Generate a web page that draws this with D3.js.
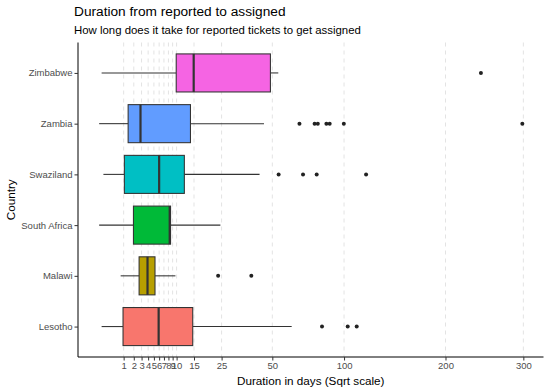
<!DOCTYPE html>
<html>
<head>
<meta charset="utf-8">
<title>Duration from reported to assigned</title>
<style>
  body { margin: 0; background: #fff; }
  svg { font-family: "Liberation Sans", Arial, Helvetica, sans-serif; }
  .grid line { stroke: #e3e3e3; stroke-dasharray: 4,4; stroke-width: 1; }
  .axis path, .axis line { stroke: #000; }
  .axis text { fill: #4d4d4d; font-size: 9.5px; }
  .axis .tick line { stroke: #333; }
</style>
</head>
<body>
<svg id="chart"></svg>
<script src="https://cdn.jsdelivr.net/npm/d3@7"></script>
<script>
"use strict";

// data (days)
var countries = ["Zimbabwe", "Zambia", "Swaziland", "South Africa", "Malawi", "Lesotho"];
var colors    = ["#F564E3", "#619CFF", "#00BFC4", "#00BA38", "#B79F00", "#F8766D"];
var lowWhisk  = [0.01, 0.0, 0.03, 0.0, 0.77, 0.01];
var q1        = [9.9, 1.4, 1.06, 1.96, 2.66, 0.95];
var medians   = [14.9, 2.85, 6.0, 8.3, 3.9, 5.9];
var q3        = [48.9, 13.9, 12.1, 8.5, 5.2, 14.6];
var highWhisk = [53.5, 45.3, 42.9, 24.5, 9.7, 61.8];
var outliers  = [
  [243],
  [66.9, 77.4, 79.7, 86.1, 88.6, 99.8, 298.6],
  [53.7, 69.3, 78.9, 118.8],
  [],
  [23.6, 38.6],
  [82.8, 103, 110.6]
];
var xTicks = [1, 2, 3, 4, 5, 6, 7, 8, 9, 10, 15, 25, 50, 100, 200, 300];

var totalWidth = 551, totalHeight = 392;
var svg = d3.select("#chart")
    .attr("width", totalWidth)
    .attr("height", totalHeight);

var panel = {left: 78, right: 543.5, top: 42.5, bottom: 357};

// sqrt scale with 5% expansion in transformed space
var dataMax = d3.max(outliers, function(o) { return d3.max(o) || 0; });
var sMax = Math.sqrt(dataMax), pad = 0.05 * sMax;
var unit = (panel.right - panel.left) / (sMax + 2 * pad);
var x = d3.scaleSqrt()
    .domain([0, dataMax])
    .range([panel.left + pad * unit, panel.right - pad * unit]);

var y = d3.scalePoint()
    .domain(countries)
    .range([panel.top, panel.bottom])
    .padding(0.6);
var boxH = y.step() * 0.75;

// grid lines
svg.append("g")
    .attr("class", "grid")
  .selectAll("line")
    .data(xTicks)
  .enter().append("line")
    .attr("x1", function(d) { return x(d); })
    .attr("x2", function(d) { return x(d); })
    .attr("y1", panel.top)
    .attr("y2", panel.bottom);

var rows = countries.map(function(c, i) {
  return {c: c, col: colors[i], lo: lowWhisk[i], q1: q1[i], med: medians[i],
          q3: q3[i], hi: highWhisk[i], out: outliers[i]};
});

var g = svg.append("g");
var box = g.selectAll(".box")
    .data(rows)
  .enter().append("g")
    .attr("class", "box")
    .attr("transform", function(d) { return "translate(0," + y(d.c) + ")"; });

box.append("line")
    .attr("x1", function(d) { return x(d.lo); })
    .attr("x2", function(d) { return x(d.q1); })
    .attr("stroke", "#333").attr("stroke-width", 1.07);
box.append("line")
    .attr("x1", function(d) { return x(d.q3); })
    .attr("x2", function(d) { return x(d.hi); })
    .attr("stroke", "#333").attr("stroke-width", 1.07);

box.append("rect")
    .attr("x", function(d) { return x(d.q1); })
    .attr("y", -boxH / 2)
    .attr("width", function(d) { return x(d.q3) - x(d.q1); })
    .attr("height", boxH)
    .attr("fill", function(d) { return d.col; })
    .attr("stroke", "#333")
    .attr("stroke-width", 1.07);

box.append("line")
    .attr("x1", function(d) { return x(d.med); })
    .attr("x2", function(d) { return x(d.med); })
    .attr("y1", -boxH / 2)
    .attr("y2", boxH / 2)
    .attr("stroke", "#333")
    .attr("stroke-width", 2.2);

box.selectAll("circle")
    .data(function(d) { return d.out; })
  .enter().append("circle")
    .attr("cx", function(v) { return x(v); })
    .attr("cy", 0)
    .attr("r", 2)
    .attr("fill", "#222");

// axes
svg.append("g")
    .attr("class", "axis")
    .attr("transform", "translate(0," + panel.bottom + ")")
    .call(d3.axisBottom(x).tickValues(xTicks).tickFormat(d3.format("d"))
      .tickSizeInner(3.5).tickSizeOuter(0).tickPadding(2))
    .call(function(a) { a.select(".domain").attr("d", "M" + panel.left + ",0H" + panel.right); });

svg.append("g")
    .attr("class", "axis")
    .attr("transform", "translate(" + panel.left + ",0)")
    .call(d3.axisLeft(y).tickSizeInner(3.5).tickSizeOuter(0).tickPadding(2))
    .call(function(a) { a.select(".domain").attr("d", "M0," + panel.top + "V" + panel.bottom); });

// titles
svg.append("text")
    .attr("x", 74).attr("y", 16)
    .attr("font-size", "13.7px")
    .text("Duration from reported to assigned");
svg.append("text")
    .attr("x", 74).attr("y", 33.5)
    .attr("font-size", "11.4px")
    .text("How long does it take for reported tickets to get assigned");

svg.append("text")
    .attr("x", (panel.left + panel.right) / 2)
    .attr("y", 385)
    .attr("text-anchor", "middle")
    .attr("font-size", "11.7px")
    .text("Duration in days (Sqrt scale)");

svg.append("text")
    .attr("transform", "translate(14.5," + ((panel.top + panel.bottom) / 2) + ") rotate(-90)")
    .attr("text-anchor", "middle")
    .attr("font-size", "11.7px")
    .text("Country");
</script>
</body>
</html>
